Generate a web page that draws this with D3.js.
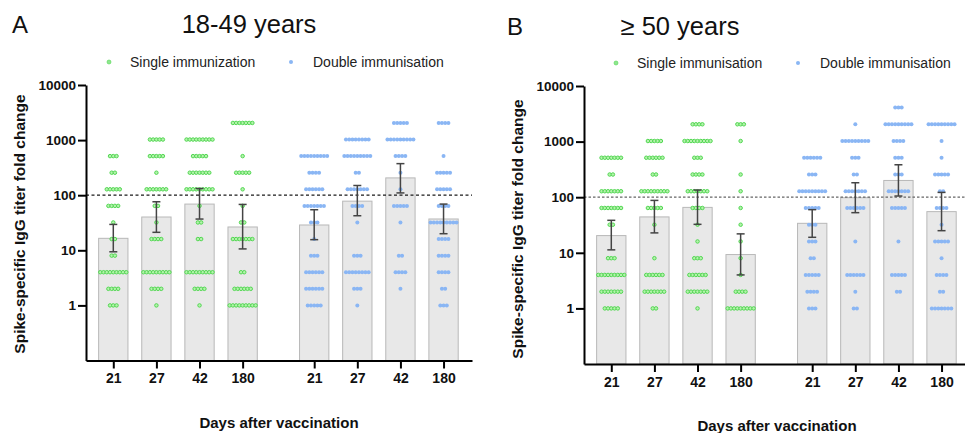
<!DOCTYPE html>
<html><head><meta charset="utf-8">
<script src="https://cdn.jsdelivr.net/npm/d3@7"></script>
<style>
body{margin:0;background:#fff}
svg{display:block}
text{font-family:Arial,"Liberation Sans",Helvetica,sans-serif}
</style>
</head><body>
<svg id="c" width="965" height="433"></svg>
<script>
// ---------------- DATA ----------------
const days = ["21", "27", "42", "180"];
const titerLevels = [1, 2, 4, 8, 16, 32, 64, 128, 256, 512, 1024, 2048, 4096];
const yTickValues = [1, 10, 100, 1000, 10000];
const thresholdValue = 100;

// number of subjects at each titer level (index matches titerLevels), per day
const youngSingleCounts = [
  [3, 4, 9, 2, 2, 1, 4, 5, 2, 3, 0, 0, 0],
  [1, 4, 9, 0, 4, 1, 2, 7, 1, 5, 5, 0, 0],
  [1, 4, 9, 0, 2, 2, 1, 9, 7, 5, 9, 0, 0],
  [9, 6, 2, 0, 7, 2, 1, 1, 5, 1, 0, 7, 0]
];
const youngDoubleCounts = [
  [5, 6, 6, 3, 1, 3, 7, 6, 4, 9, 0, 0, 0],
  [1, 3, 8, 3, 0, 1, 4, 7, 2, 9, 8, 0, 0],
  [0, 1, 4, 2, 0, 1, 5, 1, 1, 4, 9, 5, 0],
  [3, 2, 4, 4, 4, 9, 4, 5, 5, 1, 0, 4, 0]
];
const oldSingleCounts = [
  [5, 7, 9, 3, 0, 2, 7, 7, 2, 7, 0, 0, 0],
  [2, 7, 6, 1, 0, 1, 5, 9, 2, 6, 5, 0, 0],
  [1, 7, 6, 3, 1, 1, 4, 7, 4, 3, 9, 4, 0],
  [9, 4, 1, 1, 1, 1, 1, 1, 1, 0, 1, 3, 0]
];
const oldDoubleCounts = [
  [3, 4, 5, 2, 3, 3, 5, 9, 3, 6, 0, 0, 0],
  [2, 1, 6, 0, 1, 0, 6, 7, 2, 3, 9, 1, 0],
  [0, 2, 5, 0, 1, 0, 5, 7, 3, 3, 4, 9, 3],
  [7, 2, 4, 1, 5, 1, 4, 2, 5, 1, 1, 9, 0]
];

// geometric means and 95% CI
const youngSingleGM = [16.5, 40.2, 69, 26.5];
const youngSingleLo = [9.4, 21.2, 36.9, 10.6];
const youngSingleHi = [29.5, 76, 132, 68];
const youngDoubleGM = [28.8, 78, 206, 37];
const youngDoubleLo = [15.6, 42.4, 110, 20];
const youngDoubleHi = [54.5, 150, 374, 69];
const oldSingleGM = [20.4, 44.2, 65.6, 9.3];
const oldSingleLo = [11.3, 22.8, 32.5, 4.0];
const oldSingleHi = [38.4, 87.6, 134.6, 21.9];
const oldDoubleGM = [33.9, 98, 200, 55];
const oldDoubleLo = [19, 52.7, 105, 25];
const oldDoubleHi = [59.7, 182, 383, 122];

// ---------------- DRAW ----------------
const svg = d3.select("#c");
svg.append("rect").attr("width", 965).attr("height", 433).attr("fill", "#fff");

const GREEN_FILL = "#b4f2ac", GREEN_STROKE = "#52d852", BLUE = "#8ab6f4";

const panels = [
  {
    letter: "A", title: "18-49 years", x0: 86, yt: 85, yb: 360.5,
    letterX: 12, titleX: 249, titleY: 33,
    legendY: 62, leg1X: 109, leg2X: 291, leg1: "Single immunization", leg2: "Double immunisation",
    ylabX: 25, ylabY: 224, dashColor: "#1a1a1a", dash: "3,2.5",
    single: youngSingleCounts, double: youngDoubleCounts,
    sgm: youngSingleGM, slo: youngSingleLo, shi: youngSingleHi,
    dgm: youngDoubleGM, dlo: youngDoubleLo, dhi: youngDoubleHi
  },
  {
    letter: "B", title: "\u2265 50 years", x0: 584, yt: 86, yb: 364,
    letterX: 507, titleX: 680, titleY: 35,
    legendY: 63, leg1X: 616, leg2X: 798, leg1: "Single immunisation", leg2: "Double immunisation",
    ylabX: 523, ylabY: 229, dashColor: "#666", dash: "2.5,2",
    single: oldSingleCounts, double: oldDoubleCounts,
    sgm: oldSingleGM, slo: oldSingleLo, shi: oldSingleHi,
    dgm: oldDoubleGM, dlo: oldDoubleLo, dhi: oldDoubleHi
  }
];

const doubleOffset = 4.66;

panels.forEach(p => {
  const g = svg.append("g");
  const x = d3.scaleLinear().domain([-0.633, 8.32]).range([p.x0, p.x0 + 386]);
  const y = d3.scaleLog().domain([0.1, 10000]).range([p.yb, p.yt]);
  const step = x(1) - x(0);
  const bw = step * 0.68;

  const groups = [];
  days.forEach((d, i) => groups.push({pos: i, counts: p.single[i], gm: p.sgm[i], lo: p.slo[i], hi: p.shi[i], kind: "s"}));
  days.forEach((d, i) => groups.push({pos: i + doubleOffset, counts: p.double[i], gm: p.dgm[i], lo: p.dlo[i], hi: p.dhi[i], kind: "d"}));

  // bars
  g.selectAll("rect.bar").data(groups).join("rect")
    .attr("class", "bar")
    .attr("x", d => x(d.pos) - bw / 2)
    .attr("y", d => y(d.gm))
    .attr("width", bw)
    .attr("height", d => y(0.1) - y(d.gm))
    .attr("fill", "#e8e8e8")
    .attr("stroke", "#b8b8b8")
    .attr("stroke-width", 1);

  // threshold line
  g.append("line")
    .attr("x1", x.range()[0]).attr("x2", x.range()[1])
    .attr("y1", y(thresholdValue)).attr("y2", y(thresholdValue))
    .attr("stroke", p.dashColor).attr("stroke-width", 1.2)
    .attr("stroke-dasharray", p.dash);

  // dots
  const dots = [];
  groups.forEach(gr => {
    gr.counts.forEach((n, k) => {
      for (let j = 0; j < n; j++) {
        dots.push({pos: gr.pos, off: (j - (n - 1) / 2) * 3.25, v: titerLevels[k], kind: gr.kind});
      }
    });
  });
  g.selectAll("circle.dot").data(dots).join("circle")
    .attr("class", "dot")
    .attr("cx", d => x(d.pos) + d.off)
    .attr("cy", d => y(d.v))
    .attr("r", d => d.kind === "s" ? 1.75 : 2.0)
    .attr("fill", d => d.kind === "s" ? GREEN_FILL : BLUE)
    .attr("stroke", d => d.kind === "s" ? GREEN_STROKE : "none")
    .attr("stroke-width", 1);

  // error bars
  const eg = g.selectAll("g.err").data(groups).join("g").attr("class", "err")
    .attr("stroke", "#444").attr("stroke-width", 1.5);
  eg.append("line").attr("x1", d => x(d.pos)).attr("x2", d => x(d.pos))
    .attr("y1", d => y(d.lo)).attr("y2", d => y(d.hi));
  eg.append("line").attr("x1", d => x(d.pos) - 4).attr("x2", d => x(d.pos) + 4)
    .attr("y1", d => y(d.lo)).attr("y2", d => y(d.lo));
  eg.append("line").attr("x1", d => x(d.pos) - 4).attr("x2", d => x(d.pos) + 4)
    .attr("y1", d => y(d.hi)).attr("y2", d => y(d.hi));

  // axes
  const yAxis = d3.axisLeft(y).tickValues(yTickValues).tickFormat(d3.format("d"))
    .tickSize(8).tickPadding(2).tickSizeOuter(0);
  const ya = g.append("g").attr("transform", `translate(${p.x0},0)`).call(yAxis);
  ya.selectAll("text").attr("font-size", 13.5).attr("font-weight", "bold").attr("fill", "#111")
    .attr("font-family", "Arial, 'Liberation Sans', sans-serif");
  ya.select(".domain").attr("stroke", "#000").attr("stroke-width", 2);
  ya.selectAll(".tick line").attr("stroke", "#000").attr("stroke-width", 2);

  const xAxis = d3.axisBottom(x).tickValues(groups.map(d => d.pos))
    .tickFormat((d, i) => days[i % days.length])
    .tickSize(8).tickPadding(5).tickSizeOuter(0);
  const xa = g.append("g").attr("transform", `translate(0,${p.yb})`).call(xAxis);
  xa.selectAll("text").attr("font-size", 14).attr("font-weight", "bold").attr("fill", "#111")
    .attr("font-family", "Arial, 'Liberation Sans', sans-serif");
  xa.select(".domain").attr("stroke", "#000").attr("stroke-width", 2);
  xa.selectAll(".tick line").attr("stroke", "#000").attr("stroke-width", 2);

  // axis titles
  g.append("text")
    .attr("transform", `translate(${p.ylabX},${p.ylabY}) rotate(-90)`)
    .attr("text-anchor", "middle").attr("font-size", 15.5).attr("font-weight", "bold").attr("fill", "#111")
    .text("Spike-specific IgG titer fold change");
  g.append("text")
    .attr("x", (x.range()[0] + x.range()[1]) / 2).attr("y", p.yb + 67)
    .attr("text-anchor", "middle").attr("font-size", 15).attr("font-weight", "bold").attr("fill", "#111")
    .text("Days after vaccination");

  // panel titles
  g.append("text").attr("x", p.letterX).attr("y", p.titleY)
    .attr("font-size", 24).attr("fill", "#111").text(p.letter);
  g.append("text").attr("x", p.titleX).attr("y", p.titleY).attr("text-anchor", "middle")
    .attr("font-size", 25.5).attr("fill", "#111").text(p.title);

  // legend
  g.append("circle").attr("cx", p.leg1X).attr("cy", p.legendY).attr("r", 2)
    .attr("fill", "#8fe68f").attr("stroke", GREEN_STROKE).attr("stroke-width", 0.6);
  g.append("text").attr("x", p.leg1X + 21).attr("y", p.legendY + 5)
    .attr("font-size", 14).attr("fill", "#222").text(p.leg1);
  g.append("circle").attr("cx", p.leg2X).attr("cy", p.legendY).attr("r", 2)
    .attr("fill", BLUE);
  g.append("text").attr("x", p.leg2X + 22).attr("y", p.legendY + 5)
    .attr("font-size", 14).attr("fill", "#222").text(p.leg2);
});
</script>
</body></html>
